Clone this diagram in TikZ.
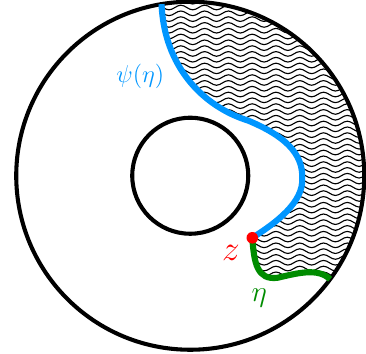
\documentclass[tikz,border=0pt]{standalone}
\usepackage{amsmath}
\usepackage{amssymb}
\usetikzlibrary{decorations.pathmorphing}
\definecolor{psiblue}{RGB}{0,150,255}
\definecolor{etagreen}{RGB}{0,140,0}
\tikzset{
  wave/.style={line width=0.55pt, decorate, decoration={snake, segment length=0.41cm, amplitude=0.04cm}},
  ring/.style={line width=2pt},
}

\begin{document}
\begin{tikzpicture}
\useasboundingbox (-3.28,-3.07) rectangle (3.03,3.03);
\coordinate (O) at (0,0);
\coordinate (top) at (99.5:3);
\coordinate (bend) at (1.0,0.95);
\coordinate (far) at (1.93,-0.05);
\coordinate (z) at (1.07,-1.07);
\coordinate (mid) at (1.5,-1.76);
\coordinate (end) at (-36.5:3);
% hatched region
\begin{scope}
\clip (top) .. controls (-0.45,1.9) and (0.2,1.2) .. (bend)
  .. controls (1.6,0.7) and (1.95,0.4) .. (far)
  .. controls (1.95,-0.45) and (1.5,-0.8) .. (z)
  .. controls (1.1,-1.5) and (1.15,-1.8) .. (mid)
  .. controls (1.85,-1.68) and (2.2,-1.58) .. (end)
  arc[start angle=-36.5, end angle=99.5, radius=3] -- cycle;
\foreach \y in {-2.0,-1.9,...,3.05}
  \draw[wave] (-0.7,\y) -- (3.2,\y);
\end{scope}
\draw[ring] (O) circle (3);
\draw[ring] (O) circle (1);
\draw[psiblue, line width=3pt] (top) .. controls (-0.45,1.9) and (0.2,1.2) .. (bend)
  .. controls (1.6,0.7) and (1.95,0.4) .. (far)
  .. controls (1.95,-0.45) and (1.5,-0.8) .. (z);
\draw[etagreen, line width=3pt] (z) .. controls (1.1,-1.5) and (1.15,-1.8) .. (mid)
  .. controls (1.85,-1.68) and (2.2,-1.58) .. (end);
\fill[red] (z) circle (0.1);
\node[psiblue] (psi) at (-0.86,1.72) {\large $\psi(\eta)$};
\node[red] (zlab) at (0.7,-1.33) {\LARGE $z$};
\node[etagreen] (eta) at (1.19,-2.1) {\Large $\eta$};
\end{tikzpicture}
\end{document}
